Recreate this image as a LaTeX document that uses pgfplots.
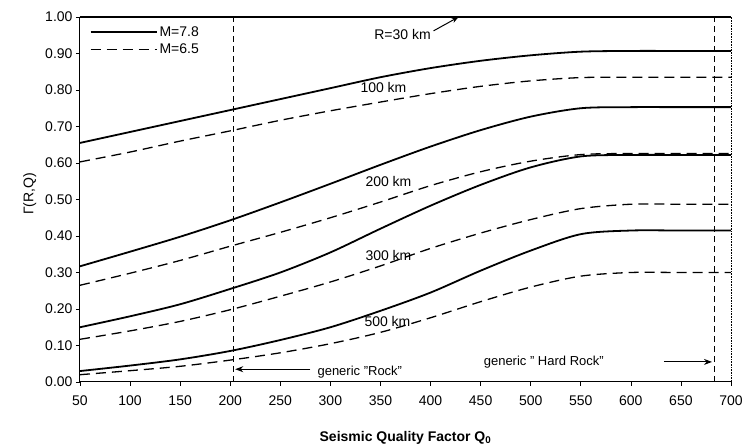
\documentclass[border=0pt]{standalone}
\usepackage{pgfplots}
\pgfplotsset{compat=1.18}
\usepackage{fontspec}
\setmainfont{Liberation Sans}
\usetikzlibrary{arrows.meta}
\begin{document}
\begin{tikzpicture}[x=1pt,y=1pt]
\useasboundingbox (-80pt,-64pt) rectangle (667pt,382pt);
\begin{axis}[
  at={(0pt,0pt)}, anchor=south west,
  scale only axis, width=651pt, height=365pt,
  xmin=50, xmax=700, ymin=0, ymax=1,
  axis x line*=bottom, axis y line*=left,
  axis line style={line width=1pt, -},
  xtick={50,100,...,700},
  ytick={0,0.1,...,1.0},
  yticklabel style={/pgf/number format/.cd, fixed, fixed zerofill, precision=2},
  /pgf/number format/assume math mode=true,
  tick align=outside, tick style={black, line width=0.6pt}, major tick length=4pt,
  ticklabel style={font=\fontsize{14}{16}\selectfont},
  xticklabel style={yshift=-6pt},
  xlabel={\bfseries Seismic Quality Factor Q$_{\mathbf 0}$},
  xlabel style={font=\fontsize{14}{16}\selectfont, at={(axis description cs:0.5,0)}, anchor=center, yshift=-56pt},
  ylabel={Γ(R,Q)},
  ylabel style={font=\fontsize{14}{16}\selectfont, at={(axis description cs:-0.077,0.515)}, anchor=center},
  legend style={at={(axis description cs:0.01,0.985)}, anchor=north west, draw=none, fill=none,
    font=\fontsize{14}{16}\selectfont, row sep=2pt},
  legend cell align=left,
  legend image code/.code={\draw[#1] (0pt,0pt) -- (66pt,0pt);},
  clip=false,
]
\pgfplotsset{
  sol/.style={black, line width=1.8pt, smooth, tension=0.5},
  das/.style={black, line width=1.3pt, dash pattern=on 10pt off 6pt, smooth, tension=0.5},
}
% legend entries
\addplot[sol] coordinates {(50,1.0) (700,1.0)};
\addlegendentry{M=7.8}
\addplot[das] coordinates {(50,1.0) (700,1.0)};
\addlegendentry{M=6.5}
% 100 km
\addplot[sol, forget plot] coordinates {(50,0.655) (100,0.685) (150,0.715) (200,0.745) (250,0.775) (300,0.805) (350,0.835) (400,0.86) (450,0.88) (500,0.895) (550,0.905) (600,0.907) (650,0.907) (700,0.907)};
\addplot[das, forget plot] coordinates {(50,0.603) (100,0.63) (150,0.66) (200,0.688) (250,0.717) (300,0.743) (350,0.767) (400,0.79) (450,0.81) (500,0.825) (550,0.834) (600,0.835) (650,0.835) (700,0.835)};
% 200 km
\addplot[sol, forget plot] coordinates {(50,0.317) (100,0.357) (150,0.398) (200,0.443) (250,0.492) (300,0.543) (350,0.595) (400,0.645) (450,0.69) (500,0.727) (550,0.75) (600,0.753) (650,0.753) (700,0.753)};
\addplot[das, forget plot] coordinates {(50,0.265) (100,0.298) (150,0.333) (200,0.372) (250,0.41) (300,0.45) (350,0.493) (400,0.538) (450,0.576) (500,0.605) (550,0.623) (600,0.626) (650,0.626) (700,0.626)};
% 300 km
\addplot[sol, forget plot] coordinates {(50,0.15) (100,0.18) (150,0.213) (200,0.255) (250,0.30) (300,0.355) (350,0.42) (400,0.483) (450,0.54) (500,0.588) (550,0.618) (600,0.622) (650,0.622) (700,0.622)};
\addplot[das, forget plot] coordinates {(50,0.117) (100,0.14) (150,0.166) (200,0.198) (250,0.235) (300,0.274) (350,0.318) (400,0.366) (450,0.408) (500,0.445) (550,0.475) (600,0.487) (650,0.487) (700,0.487)};
% 500 km
\addplot[sol, forget plot] coordinates {(50,0.03) (100,0.045) (150,0.062) (200,0.085) (250,0.115) (300,0.15) (350,0.195) (400,0.245) (450,0.305) (500,0.36) (550,0.405) (600,0.415) (650,0.415) (700,0.415)};
\addplot[das, forget plot] coordinates {(50,0.02) (100,0.031) (150,0.043) (200,0.06) (250,0.08) (300,0.105) (350,0.136) (400,0.176) (450,0.22) (500,0.26) (550,0.29) (600,0.30) (650,0.30) (700,0.30)};
% vertical reference lines
\addplot[black, line width=0.9pt, dash pattern=on 6pt off 4pt, forget plot] coordinates {(203,0) (203,1)};
\addplot[black, line width=0.9pt, dash pattern=on 6pt off 4pt, forget plot] coordinates {(683,0) (683,1)};
\addplot[black, line width=0.6pt, densely dotted, forget plot] coordinates {(700,0) (700,1)};
% labels
\node[font=\fontsize{14}{16}\selectfont, inner sep=1pt] at (axis cs:372,0.953) {R=30 km};
\draw[-{Stealth[length=7pt]}, line width=1pt] (axis cs:403,0.962) -- (axis cs:428,1.0);
\node[font=\fontsize{14}{16}\selectfont] at (axis cs:353,0.807) {100 km};
\node[font=\fontsize{14}{16}\selectfont] at (axis cs:358,0.548) {200 km};
\node[font=\fontsize{14}{16}\selectfont] at (axis cs:358,0.346) {300 km};
\node[font=\fontsize{14}{16}\selectfont] at (axis cs:357,0.166) {500 km};
\node[font=\fontsize{13}{15}\selectfont, anchor=west, inner sep=0pt] at (axis cs:287,0.027) {generic "Rock"};
\draw[-{Stealth[length=8pt]}, line width=1pt] (axis cs:280,0.035) -- (axis cs:205,0.035);
\node[font=\fontsize{13}{15}\selectfont, anchor=west, inner sep=0pt] at (axis cs:453,0.055) {generic " Hard Rock"};
\draw[-{Stealth[length=8pt]}, line width=1pt] (axis cs:633,0.055) -- (axis cs:681,0.055);
\end{axis}
\end{tikzpicture}
\end{document}
